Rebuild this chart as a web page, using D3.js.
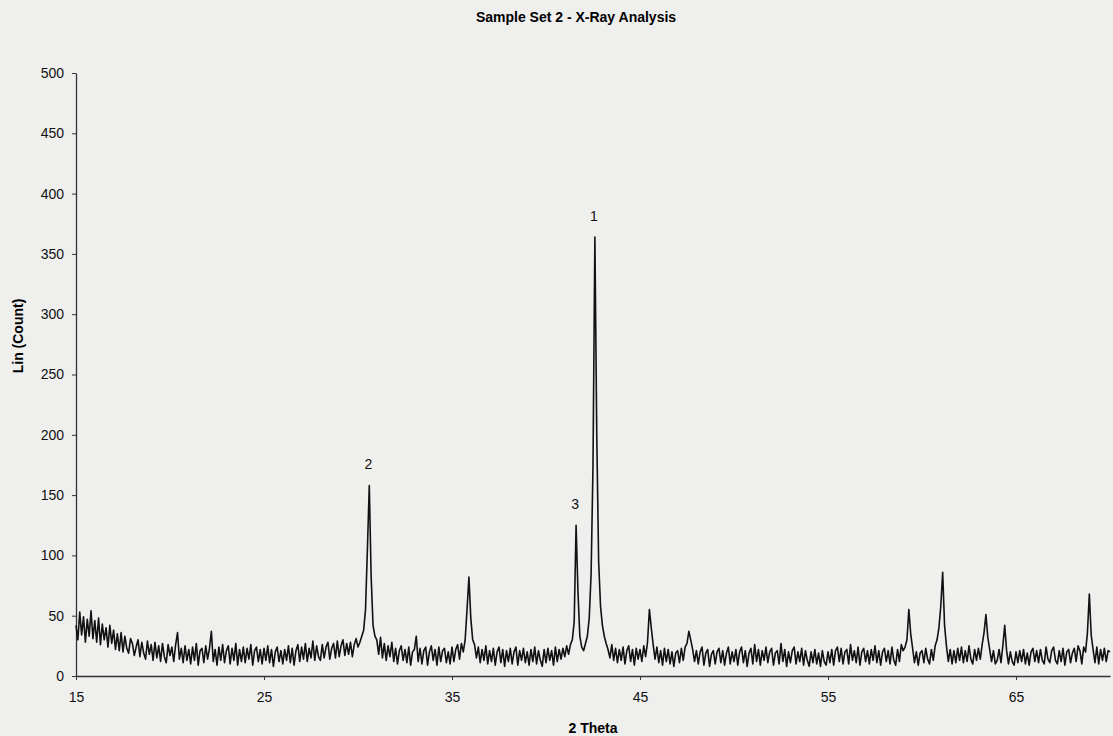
<!DOCTYPE html>
<html>
<head>
<meta charset="utf-8">
<script src="https://cdn.jsdelivr.net/npm/d3@7"></script>
<style>
  body { margin: 0; background: #efefed; }
  svg { display: block; font-family: Arial, "Liberation Sans", sans-serif; }
</style>
</head>
<body>
<script>
/* global d3 */

// scan grid : 15 -> 70 deg, pas de 0.1
const thetaStart = 15;
const thetaStep = 0.1;

// Lin (Count), une ligne = 1 degre
const counts = [
  42,30,53,34,49,28,47,33,54,31,
  46,28,48,26,43,30,40,24,42,27,
  38,22,35,21,36,20,33,23,19,31,
  27,17,24,30,16,28,19,14,29,18,
  26,13,28,15,25,12,27,16,11,26,
  17,24,12,26,36,14,23,11,25,13,
  22,10,24,13,27,9,21,23,11,25,
  14,23,37,12,22,9,24,13,26,11,
  21,25,10,23,13,27,9,22,12,24,
  11,23,14,26,9,21,24,12,22,10,
  23,13,25,11,22,8,20,24,12,21,
  10,22,13,25,11,23,9,21,26,12,
  24,14,27,12,23,15,29,13,25,16,
  13,26,15,24,28,14,23,27,15,29,
  16,25,30,17,27,18,28,16,26,31,
  24,28,33,38,55,105,158,82,42,33,
  30,18,32,15,27,13,25,16,28,12,
  23,10,21,25,13,22,11,24,9,20,
  22,33,12,23,10,21,24,9,20,25,
  13,22,9,24,12,21,23,11,20,10,
  24,12,22,26,14,27,20,30,55,82,
  48,30,26,15,24,11,22,13,25,10,
  21,12,23,9,20,24,11,22,8,21,
  12,23,10,20,24,9,21,13,23,11,
  20,9,22,12,24,10,21,13,8,22,
  11,23,13,21,9,24,12,22,14,23,
  16,25,18,26,30,45,125,70,33,24,
  21,27,33,48,85,175,364,200,95,58,
  42,33,27,22,15,26,13,23,11,22,
  13,24,10,21,25,12,22,9,23,14,
  22,12,25,16,28,55,40,26,14,24,
  11,21,9,23,12,22,10,20,8,19,
  21,11,23,13,24,27,37,30,22,12,
  21,10,20,24,9,19,22,8,18,21,
  10,20,23,11,21,9,19,24,10,20,
  12,22,9,20,24,11,21,8,19,23,
  10,26,12,22,9,21,13,24,11,20,
  23,9,19,21,10,27,12,22,8,20,
  11,21,24,10,20,12,23,9,21,13,
  8,20,11,22,10,19,8,21,12,9,
  20,11,22,9,21,24,12,23,10,20,
  22,10,26,13,21,11,24,9,20,23,
  12,21,10,22,13,25,11,21,9,20,
  23,12,21,10,24,13,9,22,12,26,
  21,24,30,55,35,23,11,20,9,19,
  21,11,23,14,10,22,13,25,30,40,
  58,86,42,25,12,22,10,21,11,23,
  13,24,11,21,12,25,14,10,22,13,
  23,14,26,36,51,32,22,12,21,10,
  13,22,11,25,42,21,10,20,12,9,
  20,11,21,12,22,10,19,9,20,23,
  12,21,11,22,13,10,24,14,11,21,
  24,13,10,21,12,23,9,20,22,11,
  19,23,12,25,21,10,24,20,36,68,
  34,22,11,24,10,22,13,23,12,21,
  20
];

const xTicks = [15, 25, 35, 45, 55, 65];
const yTicks = [0, 50, 100, 150, 200, 250, 300, 350, 400, 450, 500];

const peakNames = ["1", "2", "3"];
const peakTheta = [42.6, 30.6, 41.6];

const width = 1113, height = 736;
const margin = {top: 73, right: 3, bottom: 60, left: 76};

const svg = d3.select('body')
                .append('svg')
                .attr('width', width)
                .attr('height', height);

const x = d3.scaleLinear().domain([15, 70]).range([margin.left, width - margin.right]);
const y = d3.scaleLinear().domain([0, 500]).range([height - margin.bottom, margin.top]);

const data = counts.map((c, i) => ({theta: thetaStart + i * thetaStep, v: c}));

// axes
const xAxis = svg.append('g')
    .attr('transform', `translate(0,${y(0)})`)
    .call(d3.axisBottom(x).tickValues(xTicks).tickSize(4).tickPadding(12).tickSizeOuter(0));
const yAxis = svg.append('g')
    .attr('transform', `translate(${x(15)},0)`)
    .call(d3.axisLeft(y).tickValues(yTicks).tickSize(4).tickPadding(8).tickSizeOuter(0));

[xAxis, yAxis].forEach(a => {
    a.select('.domain').attr('stroke', '#333').attr('stroke-width', 1.3);
    a.selectAll('.tick line').attr('stroke', '#333');
    a.selectAll('.tick text').attr('font-size', 14).attr('fill', '#111')
        .attr('font-family', 'Arial, "Liberation Sans", sans-serif');
});

// pattern
const line = d3.line().x(d => x(d.theta)).y(d => y(d.v));
svg.append('path')
    .datum(data)
    .attr('fill', 'none')
    .attr('stroke', '#111')
    .attr('stroke-width', 1.6)
    .attr('stroke-linejoin', 'round')
    .attr('d', line);

// numeros des pics
peakNames.forEach((name, i) => {
    const d = data.reduce((best, p) => Math.abs(p.theta - peakTheta[i]) < Math.abs(best.theta - peakTheta[i]) ? p : best);
    svg.append('text')
        .attr('x', x(d.theta) - 1)
        .attr('y', y(d.v) - 16)
        .attr('text-anchor', 'middle')
        .attr('font-size', 14)
        .attr('fill', '#111')
        .text(name);
});

// titres
svg.append('text')
    .attr('x', 576).attr('y', 22)
    .attr('text-anchor', 'middle')
    .attr('font-size', 14).attr('font-weight', 'bold')
    .text('Sample Set 2 - X-Ray Analysis');

svg.append('text')
    .attr('x', x(42.5)).attr('y', 733)
    .attr('text-anchor', 'middle')
    .attr('font-size', 14).attr('font-weight', 'bold')
    .text('2 Theta');

svg.append('text')
    .attr('transform', 'translate(23,336) rotate(-90)')
    .attr('text-anchor', 'middle')
    .attr('font-size', 14).attr('font-weight', 'bold')
    .text('Lin (Count)');
</script>
</body>
</html>
